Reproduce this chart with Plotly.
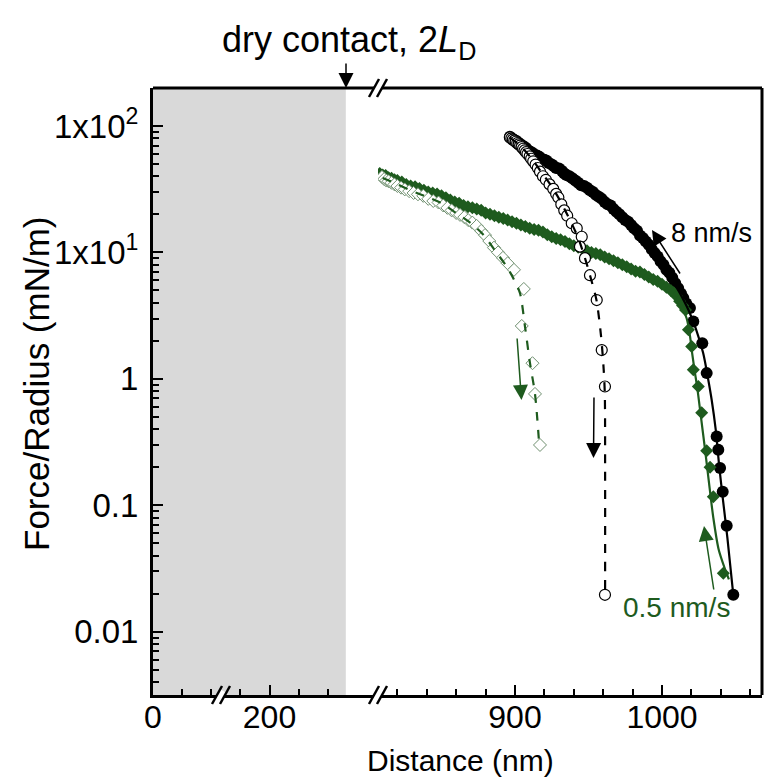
import plotly.graph_objects as go

# ---------------- data ----------------
# approach at 8 nm/s (filled black circles): (distance nm, F/R mN/m)
approach_8 = [
    (896.5, 82), (897.5, 80), (898.5, 79), (899.5, 77.5), (901, 76), (902, 74), (903.5, 72),
    (905, 70), (906, 68.5), (907.5, 67), (909, 64), (910.5, 62.5), (912, 61), (913.5, 59),
    (915, 58.5), (916.5, 57), (918, 55), (920, 54), (921.5, 53), (923, 51), (925, 49.5),
    (926.5, 48), (928, 46.5), (930, 46), (932, 44), (933.5, 42), (935, 41), (937, 40),
    (939, 38.5), (941, 37), (943, 35.5), (945, 34), (947, 33.5), (949, 32.5), (951, 31),
    (953, 30), (955, 28.5), (957, 27.5), (959, 26.5), (961, 25), (963, 24), (965, 23.5),
    (967, 22), (969, 21), (971, 20), (973, 19), (975, 18), (977, 17.5), (979, 16.5),
    (981, 15.5), (983, 14.8), (985, 13.6), (987, 13), (989, 12.2), (991, 11.5), (993, 10.6),
    (995, 9.9), (997, 9.3), (999, 8.5), (1001, 8), (1003, 7.3), (1005, 6.9), (1007, 6.3),
    (1009, 5.7), (1011, 5.2), (1013, 4.7), (1014.5, 4.35), (1016.5, 3.95), (1019, 3.64),
    (1021.3, 2.84), (1027.4, 1.91), (1030.4, 1.11), (1037.2, 0.35), (1038.3, 0.275),
    (1039.5, 0.197), (1041.3, 0.128), (1044, 0.069), (1048.5, 0.0196),
]
# separation at 8 nm/s (open black circles)
retract_8 = [
    (896.5, 81), (897.5, 79.5), (898.5, 78), (899.5, 76.5), (900.5, 75), (901.5, 73),
    (902.5, 71.5), (903.5, 70), (904.5, 68), (905.5, 66), (906.5, 64), (907.5, 62),
    (908.5, 60), (910, 57.5), (911, 55), (912.4, 52.5), (914, 49.5), (915.5, 46.5),
    (917, 43.5), (919, 40), (921, 37.5), (923.5, 34.5), (926, 31.8), (928, 29),
    (929.5, 27.2), (931.5, 24), (933.5, 21.5), (935.5, 19.5), (938.6, 17), (942, 15.5),
    (945.4, 13.3), (944.2, 11.1), (947.6, 9.0), (951, 6.6), (955.6, 4.2), (959, 1.69),
    (961.2, 0.87), (961.2, 0.0196),
]
# approach at 0.5 nm/s (filled green diamonds)
approach_05 = [
    (808, 42), (810, 41), (812, 40.5), (814, 39), (816, 38.5), (818, 37.5), (820, 37),
    (823, 36), (826, 34.5), (829, 33.5), (832, 33), (835, 32), (838, 31), (841, 30),
    (844, 29.5), (847, 29), (850, 28), (853, 27), (856, 26), (859, 25), (862, 24.5),
    (865, 23.5), (868, 23), (871, 22.5), (874, 22), (877, 21.5), (880, 20.5), (883, 20),
    (886, 19.5), (889, 19), (892, 18.5), (895, 18), (898, 17.5), (901, 17), (904, 16.5),
    (907, 16), (910, 15.5), (913, 15.2), (916, 15), (919, 14.5), (922, 13.8), (925, 13.3),
    (928, 12.9), (931, 12.6), (934, 12.2), (937, 11.7), (940, 11.3), (943, 11), (946, 10.7),
    (949, 10.3), (952, 10), (955, 9.8), (958, 9.6), (961, 9.2), (964, 8.9), (967, 8.6),
    (970, 8.3), (973, 8), (976, 7.7), (979, 7.4), (982, 7.1), (985, 7), (988, 6.7),
    (991, 6.4), (994, 6.1), (997, 5.9), (1000, 5.6), (1003, 5.3), (1006, 5), (1008, 4.8),
    (1010, 4.5), (1012, 4.1), (1014, 3.8), (1016, 3.5), (1018, 2.44), (1020.2, 1.8),
    (1021.3, 1.18), (1024.7, 0.87), (1027, 0.54), (1030.4, 0.27), (1032.7, 0.2),
    (1034.9, 0.117), (1041.7, 0.029),
]
# separation at 0.5 nm/s (open green diamonds)
retract_05 = [
    (809.5, 39.5), (811, 38), (812.5, 37), (814, 36.5), (816, 35.5), (818, 34.5),
    (820, 33.5), (822.5, 32.5), (825, 31.5), (828, 30.5), (831, 29.5), (834, 28.8),
    (837.6, 28), (841, 26.5), (844.4, 25.5), (848, 24.8), (851.2, 23.5), (854, 22.5),
    (856.9, 21.5), (860, 20.5), (862.6, 19.8), (865.5, 19), (868.2, 18), (871, 17.2),
    (873.9, 16.2), (877, 14.8), (879.6, 13.7), (882.5, 12.3), (885.7, 10.9), (888.5, 10),
    (891.8, 9.06), (895, 8.2), (899.3, 7.28), (906, 5.14), (904.6, 2.62), (911.9, 1.33),
    (913.6, 0.76), (917, 0.30),
]
# fitted curves drawn through each set
fit_approach_8 = [
    (1000, 8.2), (1005, 6.6), (1012, 4.8), (1018, 3.5), (1023, 2.5), (1028, 1.6),
    (1031.5, 0.98), (1033.8, 0.68), (1036.5, 0.4), (1039, 0.2), (1041.5, 0.11),
    (1044.5, 0.055), (1048.5, 0.0196),
]
fit_retract_8 = [
    (896.5, 81), (905, 67), (912, 54), (918, 43), (924, 34.5), (930, 26.5), (935, 20.5),
    (939, 16.5), (943, 13), (947, 9.5), (951, 6.6), (955.4, 4.2), (958.5, 2.2),
    (960.3, 1.2), (961.1, 0.75), (961.3, 0.2), (961.3, 0.0196),
]
fit_approach_05 = [
    (990, 6.5), (1000, 5.5), (1008, 4.5), (1013, 3.8), (1016.8, 3.0), (1019, 2.2),
    (1020.5, 1.6), (1022.5, 1.1), (1024, 0.85), (1026.5, 0.5), (1029.3, 0.275),
    (1032, 0.15), (1034.9, 0.08), (1038.5, 0.045), (1043, 0.031), (1045.5, 0.026),
]
fit_retract_05 = [
    (810, 38.8), (820, 34.5), (830, 30.5), (840, 27.5), (850, 24.5), (860, 20.5),
    (870, 17), (878, 14), (886, 10.5), (894.4, 7.7), (899, 6.2), (903.4, 4.75),
    (906.8, 2.59), (910.2, 1.33), (913.6, 0.76), (916.5, 0.30),
]

dry_contact_nm = 331
x_left_ticks = [0, 200]
x_left_minor = [50, 100, 150, 250, 300]
x_right_ticks = [900, 1000]
x_right_minor = [820, 840, 860, 880, 920, 940, 960, 980, 1020, 1040, 1060]
y_ticks = [0.01, 0.1, 1, 10, 100]
y_ticktext = ["0.01", "0.1", "1", "1x10<sup>1</sup>", "1x10<sup>2</sup>"]

# ---------------- layout geometry ----------------
W, H = 764, 780
L, R, T, B = 153, 2, 88, 85
PW, PH = W - L - R, H - T - B
BREAK_PX = 378
split = (BREAK_PX - L) / PW
left_range = [0, (BREAK_PX - L) / 0.5825]
right_start = 900 - (515 - BREAK_PX) / 1.47
right_range = [right_start, right_start + (W - R - BREAK_PX) / 1.47]


def px(xp):
    return (xp - L) / PW


def py(yp):
    return (T + PH - yp) / PH


GREEN = "#1e5b1e"
FN = "Liberation Sans, Arial, Helvetica, sans-serif"


def xs(d):
    return [p[0] for p in d]


def ys(d):
    return [p[1] for p in d]


fig = go.Figure()
fig.add_trace(go.Scatter(x=xs(approach_8), y=ys(approach_8), xaxis="x2", yaxis="y",
                         mode="markers", marker=dict(symbol="circle", size=12, color="black"),
                         showlegend=False))
fig.add_trace(go.Scatter(x=xs(approach_05), y=ys(approach_05), xaxis="x2", yaxis="y",
                         mode="markers", marker=dict(symbol="diamond", size=10, color=GREEN),
                         showlegend=False))
fig.add_trace(go.Scatter(x=xs(retract_05), y=ys(retract_05), xaxis="x2", yaxis="y",
                         mode="markers",
                         marker=dict(symbol="diamond", size=10, color="white",
                                     line=dict(color="#6f8f6f", width=1)),
                         showlegend=False))
fig.add_trace(go.Scatter(x=xs(retract_8), y=ys(retract_8), xaxis="x2", yaxis="y",
                         mode="markers",
                         marker=dict(symbol="circle", size=11, color="white",
                                     line=dict(color="black", width=1.2)),
                         showlegend=False))
for data, col, dash in [(fit_approach_8, "black", "solid"), (fit_approach_05, GREEN, "solid"),
                        (fit_retract_8, "black", "dash"), (fit_retract_05, GREEN, "dash")]:
    fig.add_trace(go.Scatter(x=xs(data), y=ys(data), xaxis="x2", yaxis="y", mode="lines",
                             line=dict(color=col, width=2.2, dash=dash, shape="spline",
                                       smoothing=0.8),
                             showlegend=False))

axis_common = dict(showline=True, linewidth=3, linecolor="black", ticks="inside",
                   ticklen=10, tickwidth=2, tickcolor="black", showgrid=False,
                   zeroline=False)
xtickfont = dict(family=FN, size=32, color="black")

fig.update_layout(
    width=W, height=H, margin=dict(l=L, r=R, t=T, b=B),
    paper_bgcolor="white", plot_bgcolor="white", showlegend=False,
    xaxis=dict(domain=[0, split], range=left_range, anchor="y",
               tickmode="array", tickvals=x_left_ticks, ticktext=[str(v) for v in x_left_ticks],
               minor=dict(ticks="inside", ticklen=6, tickwidth=2, tickcolor="black",
                          tickmode="array", tickvals=x_left_minor),
               ticklabelstandoff=-8, tickfont=xtickfont, **axis_common),
    xaxis2=dict(domain=[split, 1], range=right_range, anchor="y",
                tickmode="array", tickvals=x_right_ticks, ticktext=[str(v) for v in x_right_ticks],
                minor=dict(ticks="inside", ticklen=6, tickwidth=2, tickcolor="black",
                           tickmode="array", tickvals=x_right_minor),
                ticklabelstandoff=-8, tickfont=xtickfont, **axis_common),
    yaxis=dict(type="log", range=[-2.5, 2.3], anchor="x", domain=[0, 1],
               tickmode="array", tickvals=y_ticks, ticktext=y_ticktext,
               minor=dict(ticks="inside", ticklen=6, tickwidth=1.5, tickcolor="black",
                          tickmode="array",
                          tickvals=[m * 10.0 ** e for e in range(-3, 2) for m in range(2, 10)]),
               ticklabelstandoff=5, tickfont=dict(family=FN, size=33, color="black"),
               **axis_common),
)

shapes = [
    dict(type="rect", xref="x", yref="paper", x0=0, x1=dry_contact_nm, y0=0, y1=1,
         fillcolor="#d9d9d9", line=dict(width=0), layer="below"),
    dict(type="line", xref="paper", yref="paper", x0=0, x1=1, y0=1, y1=1,
         line=dict(color="black", width=3)),
    dict(type="line", xref="paper", yref="paper", x0=1, x1=1, y0=0, y1=1,
         line=dict(color="black", width=3)),
]
for cx, cy in [(221, T + PH), (BREAK_PX, T + PH), (BREAK_PX, T)]:
    shapes.append(dict(type="line", xref="paper", yref="paper",
                       x0=px(cx - 2.2), y0=py(cy + 4), x1=px(cx + 2.2), y1=py(cy - 4),
                       line=dict(color="white", width=6)))
    for dx in (-4, 4):
        shapes.append(dict(type="line", xref="paper", yref="paper",
                           x0=px(cx + dx - 5), y0=py(cy + 9), x1=px(cx + dx + 5), y1=py(cy - 9),
                           line=dict(color="black", width=2.5)))
fig.update_layout(shapes=shapes)

ann = []
# axis titles
ann.append(dict(text="Distance (nm)", xref="paper", yref="paper", x=px(460), y=py(760),
                xanchor="center", yanchor="middle", showarrow=False,
                font=dict(family=FN, size=30, color="black")))
ann.append(dict(text="Force/Radius (mN/m)", xref="paper", yref="paper", x=px(36), y=py(384),
                xanchor="center", yanchor="middle", showarrow=False, textangle=-90,
                font=dict(family=FN, size=35, color="black")))
# labels
ann.append(dict(text="dry contact, 2<i>L</i><sub>D</sub>", xref="paper", yref="paper",
                x=px(349), y=py(42), xanchor="center", yanchor="middle", showarrow=False,
                font=dict(family=FN, size=36, color="black")))
ann.append(dict(text="8 nm/s", xref="paper", yref="paper", x=px(711), y=py(233),
                xanchor="center", yanchor="middle", showarrow=False,
                font=dict(family=FN, size=27, color="black")))
ann.append(dict(text="0.5 nm/s", xref="paper", yref="paper", x=px(676), y=py(607),
                xanchor="center", yanchor="middle", showarrow=False,
                font=dict(family=FN, size=28, color=GREEN)))
# arrows: (head_x, head_y, tail_x, tail_y, color)
for hx, hy, tx, ty, col in [(346, 88, 346, 62, "black"), (652, 230, 681, 275, "black"),
                            (593.5, 458, 594, 396, "black"), (521.5, 400, 517, 337, GREEN),
                            (704, 526, 714, 591, GREEN)]:
    ann.append(dict(text="", xref="paper", yref="paper", x=px(hx), y=py(hy),
                    ax=tx - hx, ay=ty - hy, axref="pixel", ayref="pixel", showarrow=True,
                    arrowhead=2, arrowsize=2, arrowwidth=1.5, arrowcolor=col, standoff=0))
fig.update_layout(annotations=ann)

fig.write_html("out.html", config={"displayModeBar": False},
               post_script="document.body.style.margin='0';document.body.style.overflow='hidden';")
